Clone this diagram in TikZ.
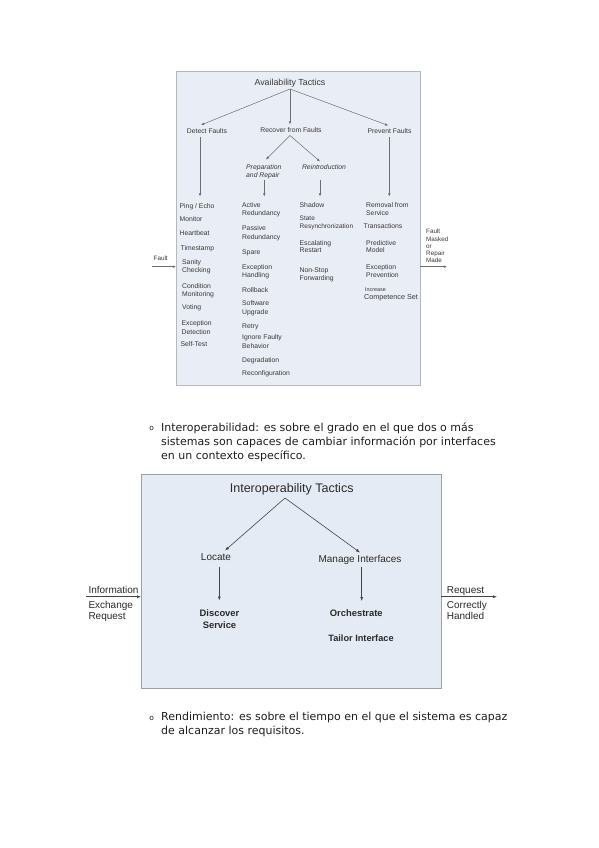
\documentclass[tikz,border=0pt]{standalone}
\usepackage{fontspec}
\setmainfont{Liberation Sans}
\newfontfamily\dejavu{DejaVu Sans}
\usetikzlibrary{arrows.meta}
\definecolor{boxfillA}{HTML}{E9EDF5}
\definecolor{boxlineA}{HTML}{B8B8B8}
\definecolor{boxfillB}{HTML}{E5EBF5}
\definecolor{boxlineB}{HTML}{A0A0A0}
\definecolor{txtA}{HTML}{383838}
\definecolor{lineA}{HTML}{6E6E6E}
\definecolor{txtB}{HTML}{2A2A2A}
\definecolor{lineB}{HTML}{444444}
\definecolor{paratxt}{HTML}{1E1E1E}
\tikzset{
  item/.style={font=\fontsize{6.8}{8.4}\selectfont, text=txtA, inner sep=0pt, anchor=base west, align=left},
  headA/.style={font=\fontsize{6.8}{8.4}\selectfont, text=txtA, inner sep=0pt, anchor=base},
  subA/.style={font=\fontsize{6.8}{8.3}\selectfont\itshape, text=txtA, inner sep=0pt, align=left},
  titleA/.style={font=\fontsize{8.8}{10}\selectfont, text=txtA, inner sep=0pt, anchor=base},
  conA/.style={draw=lineA, line width=0.5pt, -{Latex[length=3.2pt,width=2.6pt]}},
  titleB/.style={font=\fontsize{12.5}{14}\selectfont, text=txtB, inner sep=0pt, anchor=base},
  headB/.style={font=\fontsize{10}{12}\selectfont, text=txtB, inner sep=0pt, anchor=base},
  leafB/.style={font=\fontsize{9.4}{11.7}\selectfont\bfseries, text=txtB, inner sep=0pt, anchor=base, align=center},
  ioB/.style={font=\fontsize{10}{11.3}\selectfont, text=txtB, inner sep=0pt, anchor=base west, align=left},
  conB/.style={draw=lineB, line width=0.6pt, -{Latex[length=4pt,width=3pt]}},
  para/.style={font=\dejavu\fontsize{11}{14}\selectfont, text=paratxt, inner sep=0pt, anchor=base west, align=left},
  bulletmark/.style={font=\dejavu\fontsize{7.5}{9}\selectfont, text=paratxt, inner sep=0pt, anchor=base}
}
\begin{document}
\begin{tikzpicture}[x=1pt,y=-1pt]
\path[use as bounding box, fill=white] (0,0) rectangle (599,848);

% ---------------- Availability diagram ----------------
\draw[draw=boxlineA, fill=boxfillA, line width=1pt] (176,72) rectangle (420,385);
\node[titleA] (avail) at (290,85.7) {Availability Tactics};
\node[headA] (detect) at (207,133.2) {Detect Faults};
\node[headA] (recover) at (291,132) {Recover from Faults};
\node[headA] (prevent) at (389.5,133.5) {Prevent Faults};
\node[subA, anchor=base west] (prep) at (246,177.4) {Preparation\\and Repair};
\node[subA, anchor=base] (reintro) at (324,169.7) {Reintroduction};

\coordinate (apexA) at (290,89);
\coordinate (detectEnd) at (201,125);
\coordinate (recoverEnd) at (290,124.5);
\coordinate (preventEnd) at (388.3,125.5);
\coordinate (apexR) at (290,135.5);
\coordinate (prepEnd) at (266,159.5);
\coordinate (reintroEnd) at (320,161.5);
\draw[conA] (apexA) -- (detectEnd);
\draw[conA] (apexA) -- (recoverEnd);
\draw[conA] (apexA) -- (preventEnd);
\draw[conA] (apexR) -- (prepEnd);
\draw[conA] (apexR) -- (reintroEnd);

\coordinate (dTop) at (200,136.5);   \coordinate (dBot) at (200,196.5);
\coordinate (pTop) at (264.3,179.5); \coordinate (pBot) at (264.3,196.5);
\coordinate (rTop) at (320,179.5);   \coordinate (rBot) at (320,196.5);
\coordinate (vTop) at (389.3,136.5); \coordinate (vBot) at (389.3,196.5);
\draw[conA] (dTop) -- (dBot);
\draw[conA] (pTop) -- (pBot);
\draw[conA] (rTop) -- (rBot);
\draw[conA] (vTop) -- (vBot);

% column: detect faults
\node[item] (d1) at (179.5,208.1) {Ping / Echo};
\node[item] (d2) at (179.5,221.7) {Monitor};
\node[item] (d3) at (179.5,235.1) {Heartbeat};
\node[item] (d4) at (180.5,250.7) {Timestamp};
\node[item] (d5) at (182,272.5) {Sanity\\Checking};
\node[item] (d6) at (182,296.8) {Condition\\Monitoring};
\node[item] (d7) at (182,309.7) {Voting};
\node[item] (d8) at (181.5,334.1) {Exception\\Detection};
\node[item] (d9) at (180.5,346.7) {Self-Test};

% column: preparation and repair
\node[item] (r1) at (242,215.8) {Active\\Redundancy};
\node[item] (r2) at (242,239.1) {Passive\\Redundancy};
\node[item] (r3) at (242,254.7) {Spare};
\node[item] (r4) at (242,277.5) {Exception\\Handling};
\node[item] (r5) at (242,292.4) {Rollback};
\node[item] (r6) at (242,314.1) {Software\\Upgrade};
\node[item] (r7) at (242,328.4) {Retry};
\node[item] (r8) at (242,348.1) {Ignore Faulty\\Behavior};
\node[item] (r9) at (242,362.4) {Degradation};
\node[item] (r10) at (242,375.7) {Reconfiguration};

% column: reintroduction
\node[item] (s1) at (299.5,207.4) {Shadow};
\node[item, font=\fontsize{6.5}{7.7}\selectfont] (s2) at (299.5,228.4) {State\\Resynchronization};
\node[item, font=\fontsize{6.8}{7.2}\selectfont] (s3) at (299.5,252.9) {Escalating\\Restart};
\node[item, font=\fontsize{6.8}{7.6}\selectfont] (s4) at (299.5,280) {Non-Stop\\Forwarding};

% column: prevent faults
\node[item, font=\fontsize{6.8}{7.7}\selectfont] (p1) at (366,215.1) {Removal from\\Service};
\node[item] (p2) at (363.5,228.4) {Transactions};
\node[item, font=\fontsize{6.8}{7.2}\selectfont] (p3) at (366,252.9) {Predictive\\Model};
\node[item, font=\fontsize{6.8}{7.7}\selectfont] (p4) at (366,277.4) {Exception\\Prevention};
\node[item, font=\fontsize{5.4}{6}\selectfont] (p5a) at (365,291.4) {Increase};
\node[item, font=\fontsize{7.2}{8}\selectfont] (p5b) at (364,299.9) {Competence Set};

% input / output
\node[item, font=\fontsize{6.3}{7.1}\selectfont] (faultIn) at (153.5,260.8) {Fault};
\node[item, font=\fontsize{6.3}{7.1}\selectfont] (faultOut) at (426,262.3) {Fault\\Masked\\or\\Repair\\Made};
\coordinate (inStart) at (151.7,266.7);
\coordinate (inEnd) at (176,266.7);
\coordinate (outStart) at (420,266.7);
\coordinate (outEnd) at (447,266.7);
\draw[conA] (inStart) -- (inEnd);
\draw[conA] (outStart) -- (outEnd);

% ---------------- paragraph 1 ----------------
\node[bulletmark] (b1) at (151.7,430.5) {o};
\node[para] (par1) at (161,459.2) {Interoperabilidad: es sobre el grado en el que dos o más\\sistemas son capaces de cambiar información por interfaces\\en un contexto específico.};

% ---------------- Interoperability diagram ----------------
\draw[draw=boxlineB, fill=boxfillB, line width=1pt] (141,474) rectangle (441,688);
\node[titleB] (interop) at (291.7,492.2) {Interoperability Tactics};
\node[headB] (locate) at (216,560.8) {Locate};
\node[headB] (manage) at (360,562.8) {Manage Interfaces};
\node[leafB] (discover) at (219.5,628.4) {Discover\\Service};
\node[leafB] (orch) at (356.3,616.7) {Orchestrate};
\node[leafB, font=\fontsize{9.2}{11}\selectfont\bfseries] (tailor) at (361,641.6) {Tailor Interface};

\coordinate (apexB) at (285,498);
\coordinate (locateEnd) at (225,550.5);
\coordinate (manageEnd) at (360,552.5);
\draw[conB] (apexB) -- (locateEnd);
\draw[conB] (apexB) -- (manageEnd);
\coordinate (lTop) at (219.3,566.5); \coordinate (lBot) at (219.3,600.5);
\coordinate (mTop) at (361.7,566.5); \coordinate (mBot) at (361.7,601);
\draw[conB] (lTop) -- (lBot);
\draw[conB] (mTop) -- (mBot);

\node[ioB] (infoIn) at (88.3,619.7) {Information\\[3.5pt]Exchange\\Request};
\node[ioB] (reqOut) at (446.7,619.7) {Request\\[3.5pt]Correctly\\Handled};
\coordinate (ioInStart) at (86,596.7);
\coordinate (ioInEnd) at (141,596.7);
\coordinate (ioOutStart) at (441,596.7);
\coordinate (ioOutEnd) at (497,596.7);
\draw[conB] (ioInStart) -- (ioInEnd);
\draw[conB] (ioOutStart) -- (ioOutEnd);

% ---------------- paragraph 2 ----------------
\node[bulletmark] (b2) at (151.7,720) {o};
\node[para] (par2) at (161,734.6) {Rendimiento: es sobre el tiempo en el que el sistema es capaz\\de alcanzar los requisitos.};
\end{tikzpicture}
\end{document}
